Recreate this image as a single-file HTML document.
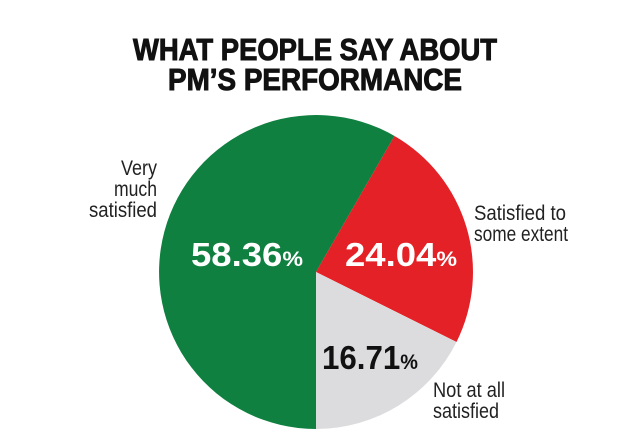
<!DOCTYPE html>
<html><head><meta charset="utf-8"><style>body{margin:0;background:#fff}svg{display:block}</style></head>
<body>
<svg width="640" height="439" viewBox="0 0 640 439" xmlns="http://www.w3.org/2000/svg">
<rect width="640" height="439" fill="#fff"/>
<g font-family="Liberation Sans, sans-serif" font-weight="bold" font-size="31" fill="#111" stroke="#111" stroke-width="1" text-anchor="middle">
<text x="315" y="60" textLength="364" lengthAdjust="spacingAndGlyphs">WHAT PEOPLE SAY ABOUT</text>
<text x="315" y="90" textLength="294" lengthAdjust="spacingAndGlyphs">PM’S PERFORMANCE</text>
</g>
<path d="M316,272 L316,429 A157,157 0 1 1 394.5,136 Z" fill="#0f8040"/>
<path d="M316,272 L394.5,136 A157,157 0 0 1 456.5,342 Z" fill="#e32126"/>
<path d="M316,272 L456.5,342 A157,157 0 0 1 316,429 Z" fill="#dcdcdf"/>
<g font-family="Liberation Sans, sans-serif" font-size="21" fill="#222">
<text x="157" y="175" text-anchor="end" textLength="36" lengthAdjust="spacingAndGlyphs">Very</text>
<text x="157" y="196" text-anchor="end" textLength="43" lengthAdjust="spacingAndGlyphs">much</text>
<text x="157" y="217" text-anchor="end" textLength="68" lengthAdjust="spacingAndGlyphs">satisfied</text>
<text x="474" y="220" textLength="92" lengthAdjust="spacingAndGlyphs">Satisfied to</text>
<text x="474" y="241" textLength="94" lengthAdjust="spacingAndGlyphs">some extent</text>
<text x="433" y="397" textLength="72" lengthAdjust="spacingAndGlyphs">Not at all</text>
<text x="433" y="418" textLength="66" lengthAdjust="spacingAndGlyphs">satisfied</text>
</g>
<g font-family="Liberation Sans, sans-serif" font-weight="bold">
<text x="191" y="266" fill="#fff" font-size="33" textLength="112" lengthAdjust="spacingAndGlyphs">58.36<tspan font-size="21">%</tspan></text>
<text x="345" y="266" fill="#fff" font-size="33" textLength="112" lengthAdjust="spacingAndGlyphs">24.04<tspan font-size="21">%</tspan></text>
<text x="322" y="369" fill="#111" font-size="33" textLength="96" lengthAdjust="spacingAndGlyphs">16.71<tspan font-size="21">%</tspan></text>
</g>
</svg>
</body></html>
